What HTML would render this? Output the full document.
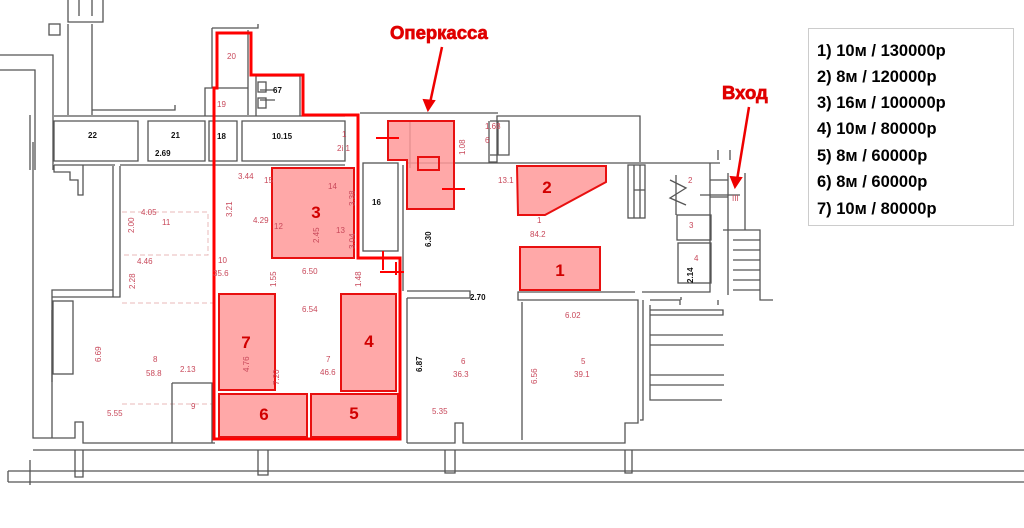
<!DOCTYPE html>
<html><head><meta charset="utf-8"><style>
html,body{margin:0;padding:0;background:#fff;width:1024px;height:528px;overflow:hidden}
svg{display:block}
.w{fill:none;stroke:#555;stroke-width:1.3}
.r{font-family:"Liberation Sans",sans-serif;font-size:8px;fill:#c8485a}
.b{font-family:"Liberation Sans",sans-serif;font-size:8px;fill:#111;font-weight:bold}
.sh{fill:#f99;fill-opacity:.85;stroke:#e81010;stroke-width:2}
.n{font-family:"Liberation Sans",sans-serif;font-size:17px;font-weight:bold;fill:#d10000}
.lg{font-family:"Liberation Sans",sans-serif;font-size:16.5px;font-weight:bold;fill:#000}
.an{font-family:"Liberation Sans",sans-serif;font-size:18.5px;font-weight:bold;fill:#e00000;stroke:#e00000;stroke-width:0.7}
</style></head><body>
<svg width="1024" height="528" viewBox="0 0 1024 528" xmlns="http://www.w3.org/2000/svg">
<path class="w" d="M68 0V22H103V0 M79 0V16 M92 0V16"/>
<rect class="w" x="49" y="24" width="11" height="11"/>
<path class="w" d="M0 55H53V170 M0 70H35V170 M68 115V24 M92 115V24 M92 110H175V105"/>
<path class="w" d="M54 121H138V161H54Z M148 121H205V161H148Z M209 121H237V161H209Z M242 121H345V161H242Z"/>
<path class="w" d="M54 116H345 M360 113H498 M54 165H115 M120 165H345"/>
<path class="w" d="M30 115V170 M54 165V172H70V180H78V195H83V165"/>
<path class="w" d="M212 28H258V24 M212 28V88H205V116 M248 30V115 M208 88H248 M256 76H300V116 M256 76V116 M260 90H275 M260 100H275"/>
<rect class="w" x="258" y="82" width="8" height="10"/><rect class="w" x="258" y="98" width="8" height="10"/>
<path class="w" d="M113 166V290H52V382 M120 166V297H52 M113 290V297"/>
<rect class="w" x="53" y="301" width="20" height="73"/>
<path class="w" d="M33 142V438H52V310 M52 438H75V422H83V443H215 M30 460V485"/>
<path d="M122 212H208V255H122 M122 303H215 M122 404H215" stroke="#e9b8b8" stroke-dasharray="5 3" fill="none"/>
<path class="w" d="M172 383H212V443 M172 383V443"/>
<path class="w" d="M33 450H1024 M8 471H1024 M8 482H1024 M8 471V482"/>
<path class="w" d="M75 450V477H83V450 M258 450V475H268V450 M445 450V473H455V450 M625 450V473H632V450"/>
<rect class="w" x="363" y="163" width="35" height="88"/>
<path class="w" d="M358 258H398 M407 291H470V298H407 M407 298V443 M407 443H455V423H463V443H625V423H638V300H518V292H635"/>
<path class="w" d="M410 121V168 M489 121V162H497V116H640V162 M407 163H720"/>
<path class="w" d="M403 165V291"/>
<path class="w" d="M522 302V440" stroke="#ddd"/>
<path class="w" d="M710 163V292H642 M643 300V420H640 M650 305V400H722 M650 315H723V310H650 M650 335H723 M650 345H724 M650 375H724 M650 385H724 M650 300H680V305"/>
<path class="w" d="M681 297V300 M718 300V305"/>
<rect class="w" x="628" y="165" width="17" height="53"/>
<path class="w" d="M634 165V218 M640 165V218 M634 190H645"/>
<path class="w" d="M676 175V215 M670 180L686 188L670 198L686 205"/>
<rect class="w" x="677" y="215" width="34" height="25"/>
<rect class="w" x="678" y="243" width="33" height="40"/>
<path class="w" d="M710 180H728 M710 197H728 M700 195H740 M728 173V230 M745 173V230 M723 230H760V300H773 M728 230V295 M745 195V230"/>
<path class="w" d="M733 240H760 M733 250H760 M733 260H760 M733 270H760 M733 280H760 M733 290H760 M718 150V160 M730 150V160"/>
<path class="w" d="M490 121H509V155H490 M498 121V155"/>
<path d="M217 33H251V75H303V115H358V258H400V439H214V88H217Z" fill="none" stroke="#f00" stroke-width="3"/>
<rect class="sh" x="272" y="168" width="82" height="90"/>
<path class="sh" d="M388 121H454V209H407V160H388Z"/>
<rect x="418" y="157" width="21" height="13" fill="none" stroke="#e81010" stroke-width="2"/>
<path class="sh" d="M517 166H606V182L545 215H518Z"/>
<rect class="sh" x="520" y="247" width="80" height="43"/>
<rect class="sh" x="219" y="294" width="56" height="96"/>
<rect class="sh" x="341" y="294" width="55" height="97"/>
<rect class="sh" x="219" y="394" width="88" height="43"/>
<rect class="sh" x="311" y="394" width="87" height="43"/>
<path d="M376 138H399 M442 189H465 M380 272H404 M383 251V270 M396 275V262" stroke="#f00" stroke-width="2"/>
<text class="n" x="316" y="218" text-anchor="middle">3</text>
<text class="n" x="547" y="193" text-anchor="middle">2</text>
<text class="n" x="560" y="276" text-anchor="middle">1</text>
<text class="n" x="246" y="348" text-anchor="middle">7</text>
<text class="n" x="369" y="347" text-anchor="middle">4</text>
<text class="n" x="264" y="420" text-anchor="middle">6</text>
<text class="n" x="354" y="419" text-anchor="middle">5</text>
<g class="b"><text x="88" y="138">22</text><text x="171" y="138">21</text><text x="155" y="156">2.69</text><text x="217" y="139">18</text><text x="272" y="139">10.15</text><text x="273" y="93">67</text><text x="372" y="205">16</text><text x="470" y="300">2.70</text></g>
<g class="r"><text x="227" y="59">20</text><text x="217" y="107">19</text><text x="342" y="137">1</text><text x="337" y="151">2i 1</text>
<text x="238" y="179">3.44</text><text x="264" y="183">15</text><text x="328" y="189">14</text><text x="253" y="223">4.29</text><text x="274" y="229">12</text><text x="336" y="233">13</text>
<text x="141" y="215">4.05</text><text x="162" y="225">11</text><text x="137" y="264">4.46</text><text x="218" y="263">10</text><text x="213" y="276">35.6</text>
<text x="302" y="274">6.50</text><text x="302" y="312">6.54</text><text x="326" y="362">7</text><text x="320" y="375">46.6</text>
<text x="153" y="362">8</text><text x="146" y="376">58.8</text><text x="180" y="372">2.13</text><text x="191" y="409">9</text><text x="107" y="416">5.55</text>
<text x="485" y="129">1.68</text><text x="485" y="143">6</text><text x="498" y="183">13.1</text><text x="537" y="223">1</text><text x="530" y="237">84.2</text>
<text x="688" y="183">2</text><text x="689" y="228">3</text><text x="694" y="261">4</text><text x="732" y="201">III</text>
<text x="565" y="318">6.02</text><text x="461" y="364">6</text><text x="453" y="377">36.3</text><text x="581" y="364">5</text><text x="574" y="377">39.1</text><text x="432" y="414">5.35</text></g>
<g class="r"><text transform="translate(232,217) rotate(-90)">3.21</text><text transform="translate(134,233) rotate(-90)">2.00</text><text transform="translate(135,289) rotate(-90)">2.28</text><text transform="translate(101,362) rotate(-90)">6.69</text><text transform="translate(276,287) rotate(-90)">1.55</text><text transform="translate(361,287) rotate(-90)">1.48</text><text transform="translate(249,372) rotate(-90)">4.76</text><text transform="translate(279,385) rotate(-90)">7.20</text><text transform="translate(319,243) rotate(-90)">2.45</text><text transform="translate(355,206) rotate(-90)">3.38</text><text transform="translate(355,249) rotate(-90)">3.04</text><text transform="translate(465,155) rotate(-90)">1.08</text><text transform="translate(537,384) rotate(-90)">6.56</text></g>
<g class="b"><text transform="translate(431,247) rotate(-90)">6.30</text><text transform="translate(422,372) rotate(-90)">6.87</text><text transform="translate(693,283) rotate(-90)">2.14</text></g>
<text class="an" x="390" y="39">Оперкасса</text>
<path d="M442 47L430 103" stroke="#e00" stroke-width="2.5"/><path d="M424 100L428 110L434 101Z" fill="#e00" stroke="#e00" stroke-width="2"/>
<text class="an" x="722" y="99">Вход</text>
<path d="M749 107L737 180" stroke="#e00" stroke-width="2.5"/><path d="M731 177L735 187L741 178Z" fill="#e00" stroke="#e00" stroke-width="2"/>
<rect x="808.5" y="28.5" width="205" height="197" fill="#fff" stroke="#ccc"/>
<g class="lg"><text x="817" y="56">1) 10м / 130000р</text><text x="817" y="82">2) 8м / 120000р</text><text x="817" y="108">3) 16м / 100000р</text><text x="817" y="134">4) 10м / 80000р</text><text x="817" y="161">5) 8м / 60000р</text><text x="817" y="187">6) 8м / 60000р</text><text x="817" y="214">7) 10м / 80000р</text></g>
</svg>
</body></html>
